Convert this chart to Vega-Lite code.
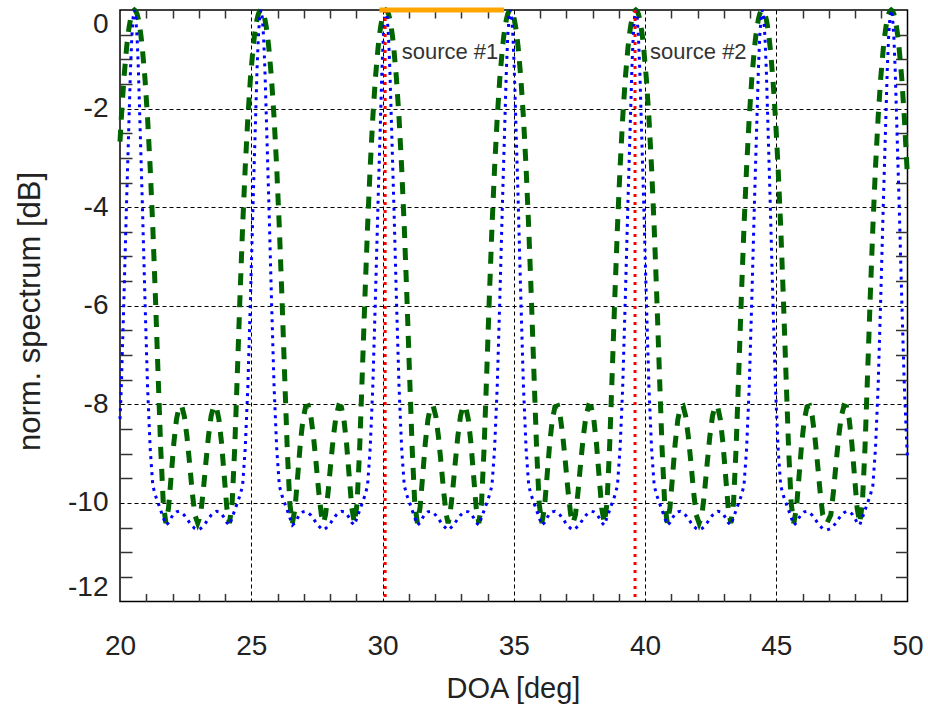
{
"$schema":"https://vega.github.io/schema/vega-lite/v6.json",
"width":787.5,"height":591.5,
"autosize":{"type":"none"},
"padding":{"left":120,"top":10,"right":20,"bottom":105},
"config":{"view":{"stroke":"#000","strokeWidth":1.5},"font":"Liberation Sans","text":{"font":"Liberation Sans"}},
"datasets":{
"spec":[
{"x":20.0,"g":-2.67,"b":-8.3},{"x":20.05,"g":-2.19,"b":-7.65},{"x":20.15,"g":-1.38,"b":-5.85},{"x":20.25,"g":-0.77,"b":-3.9},{"x":20.3,"g":-0.53,"b":-3},{"x":20.35,"g":-0.34,"b":-2.1},{"x":20.4,"g":-0.19,"b":-1.2},{"x":20.45,"g":-0.08,"b":-0.55},{"x":20.5,"g":-0.02,"b":-0.15},
{"x":20.55,"g":0,"b":0},{"x":20.6,"g":-0.02,"b":-0.15},{"x":20.65,"g":-0.08,"b":-0.55},{"x":20.7,"g":-0.19,"b":-1.2},{"x":20.75,"g":-0.34,"b":-2.1},{"x":20.8,"g":-0.53,"b":-3},{"x":20.85,"g":-0.77,"b":-3.9},{"x":20.95,"g":-1.38,"b":-5.85},{"x":21.05,"g":-2.19,"b":-7.65},{"x":21.15,"g":-3.2,"b":-8.9},{"x":21.25,"g":-4.41,"b":-9.65},{"x":21.35,"g":-5.83,"b":-9.85},{"x":21.45,"g":-7.38,"b":-10},{"x":21.55,"g":-8.89,"b":-10.15},{"x":21.65,"g":-10.02,"b":-10.3},{"x":21.75,"g":-10.41,"b":-10.45},{"x":21.85,"g":-10.1,"b":-10.4},{"x":21.95,"g":-9.45,"b":-10.3},{"x":22.05,"g":-8.79,"b":-10.22},{"x":22.15,"g":-8.31,"b":-10.18},{"x":22.25,"g":-8.05,"b":-10.17},{"x":22.35,"g":-8.03,"b":-10.2},{"x":22.45,"g":-8.24,"b":-10.25},{"x":22.55,"g":-8.65,"b":-10.32},{"x":22.65,"g":-9.19,"b":-10.4},{"x":22.75,"g":-9.77,"b":-10.47},{"x":22.85,"g":-10.24,"b":-10.52},
{"x":22.96,"g":-10.41,"b":-10.55},
{"x":23.07,"g":-10.24,"b":-10.52},{"x":23.17,"g":-9.77,"b":-10.47},{"x":23.27,"g":-9.19,"b":-10.4},{"x":23.37,"g":-8.65,"b":-10.32},{"x":23.47,"g":-8.24,"b":-10.25},{"x":23.57,"g":-8.03,"b":-10.2},{"x":23.67,"g":-8.05,"b":-10.17},{"x":23.77,"g":-8.31,"b":-10.18},{"x":23.87,"g":-8.79,"b":-10.22},{"x":23.97,"g":-9.45,"b":-10.3},{"x":24.07,"g":-10.1,"b":-10.4},{"x":24.17,"g":-10.41,"b":-10.45},{"x":24.27,"g":-10.02,"b":-10.3},{"x":24.37,"g":-8.89,"b":-10.15},{"x":24.47,"g":-7.38,"b":-10},{"x":24.57,"g":-5.83,"b":-9.85},{"x":24.67,"g":-4.41,"b":-9.65},{"x":24.77,"g":-3.2,"b":-8.9},{"x":24.87,"g":-2.19,"b":-7.65},{"x":24.97,"g":-1.38,"b":-5.85},{"x":25.07,"g":-0.77,"b":-3.9},{"x":25.12,"g":-0.53,"b":-3},{"x":25.17,"g":-0.34,"b":-2.1},{"x":25.22,"g":-0.19,"b":-1.2},{"x":25.27,"g":-0.08,"b":-0.55},{"x":25.32,"g":-0.02,"b":-0.15},
{"x":25.37,"g":0,"b":0},{"x":25.42,"g":-0.02,"b":-0.15},{"x":25.47,"g":-0.08,"b":-0.55},{"x":25.52,"g":-0.19,"b":-1.2},{"x":25.57,"g":-0.34,"b":-2.1},{"x":25.62,"g":-0.53,"b":-3},{"x":25.67,"g":-0.77,"b":-3.9},{"x":25.77,"g":-1.38,"b":-5.85},{"x":25.87,"g":-2.19,"b":-7.65},{"x":25.97,"g":-3.2,"b":-8.9},{"x":26.07,"g":-4.41,"b":-9.65},{"x":26.17,"g":-5.83,"b":-9.85},{"x":26.27,"g":-7.38,"b":-10},{"x":26.37,"g":-8.89,"b":-10.15},{"x":26.47,"g":-10.02,"b":-10.3},{"x":26.57,"g":-10.41,"b":-10.45},{"x":26.67,"g":-10.1,"b":-10.4},{"x":26.77,"g":-9.45,"b":-10.3},{"x":26.87,"g":-8.79,"b":-10.22},{"x":26.97,"g":-8.31,"b":-10.18},{"x":27.07,"g":-8.05,"b":-10.17},{"x":27.17,"g":-8.03,"b":-10.2},{"x":27.27,"g":-8.24,"b":-10.25},{"x":27.37,"g":-8.65,"b":-10.32},{"x":27.47,"g":-9.19,"b":-10.4},{"x":27.57,"g":-9.77,"b":-10.47},{"x":27.67,"g":-10.24,"b":-10.52},
{"x":27.75,"g":-10.41,"b":-10.55},
{"x":27.83,"g":-10.24,"b":-10.52},{"x":27.93,"g":-9.77,"b":-10.47},{"x":28.03,"g":-9.19,"b":-10.4},{"x":28.13,"g":-8.65,"b":-10.32},{"x":28.23,"g":-8.24,"b":-10.25},{"x":28.33,"g":-8.03,"b":-10.2},{"x":28.43,"g":-8.05,"b":-10.17},{"x":28.53,"g":-8.31,"b":-10.18},{"x":28.63,"g":-8.79,"b":-10.22},{"x":28.73,"g":-9.45,"b":-10.3},{"x":28.83,"g":-10.1,"b":-10.4},{"x":28.93,"g":-10.41,"b":-10.45},{"x":29.03,"g":-10.02,"b":-10.3},{"x":29.13,"g":-8.89,"b":-10.15},{"x":29.23,"g":-7.38,"b":-10},{"x":29.33,"g":-5.83,"b":-9.85},{"x":29.43,"g":-4.41,"b":-9.65},{"x":29.53,"g":-3.2,"b":-8.9},{"x":29.63,"g":-2.19,"b":-7.65},{"x":29.73,"g":-1.38,"b":-5.85},{"x":29.83,"g":-0.77,"b":-3.9},{"x":29.88,"g":-0.53,"b":-3},{"x":29.93,"g":-0.34,"b":-2.1},{"x":29.98,"g":-0.19,"b":-1.2},{"x":30.03,"g":-0.08,"b":-0.55},{"x":30.08,"g":-0.02,"b":-0.15},
{"x":30.13,"g":0,"b":0},{"x":30.18,"g":-0.02,"b":-0.15},{"x":30.23,"g":-0.08,"b":-0.55},{"x":30.28,"g":-0.19,"b":-1.2},{"x":30.33,"g":-0.34,"b":-2.1},{"x":30.38,"g":-0.53,"b":-3},{"x":30.43,"g":-0.77,"b":-3.9},{"x":30.53,"g":-1.38,"b":-5.85},{"x":30.63,"g":-2.19,"b":-7.65},{"x":30.73,"g":-3.2,"b":-8.9},{"x":30.83,"g":-4.41,"b":-9.65},{"x":30.93,"g":-5.83,"b":-9.85},{"x":31.03,"g":-7.38,"b":-10},{"x":31.13,"g":-8.89,"b":-10.15},{"x":31.23,"g":-10.02,"b":-10.3},{"x":31.33,"g":-10.41,"b":-10.45},{"x":31.43,"g":-10.1,"b":-10.4},{"x":31.53,"g":-9.45,"b":-10.3},{"x":31.63,"g":-8.79,"b":-10.22},{"x":31.73,"g":-8.31,"b":-10.18},{"x":31.83,"g":-8.05,"b":-10.17},{"x":31.93,"g":-8.03,"b":-10.2},{"x":32.03,"g":-8.24,"b":-10.25},{"x":32.13,"g":-8.65,"b":-10.32},{"x":32.23,"g":-9.19,"b":-10.4},{"x":32.33,"g":-9.77,"b":-10.47},{"x":32.43,"g":-10.24,"b":-10.52},
{"x":32.5,"g":-10.41,"b":-10.55},
{"x":32.57,"g":-10.24,"b":-10.52},{"x":32.67,"g":-9.77,"b":-10.47},{"x":32.77,"g":-9.19,"b":-10.4},{"x":32.87,"g":-8.65,"b":-10.32},{"x":32.97,"g":-8.24,"b":-10.25},{"x":33.07,"g":-8.03,"b":-10.2},{"x":33.17,"g":-8.05,"b":-10.17},{"x":33.27,"g":-8.31,"b":-10.18},{"x":33.37,"g":-8.79,"b":-10.22},{"x":33.47,"g":-9.45,"b":-10.3},{"x":33.57,"g":-10.1,"b":-10.4},{"x":33.67,"g":-10.41,"b":-10.45},{"x":33.77,"g":-10.02,"b":-10.3},{"x":33.87,"g":-8.89,"b":-10.15},{"x":33.97,"g":-7.38,"b":-10},{"x":34.07,"g":-5.83,"b":-9.85},{"x":34.17,"g":-4.41,"b":-9.65},{"x":34.27,"g":-3.2,"b":-8.9},{"x":34.37,"g":-2.19,"b":-7.65},{"x":34.47,"g":-1.38,"b":-5.85},{"x":34.57,"g":-0.77,"b":-3.9},{"x":34.62,"g":-0.53,"b":-3},{"x":34.67,"g":-0.34,"b":-2.1},{"x":34.72,"g":-0.19,"b":-1.2},{"x":34.77,"g":-0.08,"b":-0.55},{"x":34.82,"g":-0.02,"b":-0.15},
{"x":34.87,"g":0,"b":0},{"x":34.92,"g":-0.02,"b":-0.15},{"x":34.97,"g":-0.08,"b":-0.55},{"x":35.02,"g":-0.19,"b":-1.2},{"x":35.07,"g":-0.34,"b":-2.1},{"x":35.12,"g":-0.53,"b":-3},{"x":35.17,"g":-0.77,"b":-3.9},{"x":35.27,"g":-1.38,"b":-5.85},{"x":35.37,"g":-2.19,"b":-7.65},{"x":35.47,"g":-3.2,"b":-8.9},{"x":35.57,"g":-4.41,"b":-9.65},{"x":35.67,"g":-5.83,"b":-9.85},{"x":35.77,"g":-7.38,"b":-10},{"x":35.87,"g":-8.89,"b":-10.15},{"x":35.97,"g":-10.02,"b":-10.3},{"x":36.07,"g":-10.41,"b":-10.45},{"x":36.17,"g":-10.1,"b":-10.4},{"x":36.27,"g":-9.45,"b":-10.3},{"x":36.37,"g":-8.79,"b":-10.22},{"x":36.47,"g":-8.31,"b":-10.18},{"x":36.57,"g":-8.05,"b":-10.17},{"x":36.67,"g":-8.03,"b":-10.2},{"x":36.77,"g":-8.24,"b":-10.25},{"x":36.87,"g":-8.65,"b":-10.32},{"x":36.97,"g":-9.19,"b":-10.4},{"x":37.07,"g":-9.77,"b":-10.47},{"x":37.17,"g":-10.24,"b":-10.52},
{"x":37.26,"g":-10.41,"b":-10.55},
{"x":37.35,"g":-10.24,"b":-10.52},{"x":37.45,"g":-9.77,"b":-10.47},{"x":37.55,"g":-9.19,"b":-10.4},{"x":37.65,"g":-8.65,"b":-10.32},{"x":37.75,"g":-8.24,"b":-10.25},{"x":37.85,"g":-8.03,"b":-10.2},{"x":37.95,"g":-8.05,"b":-10.17},{"x":38.05,"g":-8.31,"b":-10.18},{"x":38.15,"g":-8.79,"b":-10.22},{"x":38.25,"g":-9.45,"b":-10.3},{"x":38.35,"g":-10.1,"b":-10.4},{"x":38.45,"g":-10.41,"b":-10.45},{"x":38.55,"g":-10.02,"b":-10.3},{"x":38.65,"g":-8.89,"b":-10.15},{"x":38.75,"g":-7.38,"b":-10},{"x":38.85,"g":-5.83,"b":-9.85},{"x":38.95,"g":-4.41,"b":-9.65},{"x":39.05,"g":-3.2,"b":-8.9},{"x":39.15,"g":-2.19,"b":-7.65},{"x":39.25,"g":-1.38,"b":-5.85},{"x":39.35,"g":-0.77,"b":-3.9},{"x":39.4,"g":-0.53,"b":-3},{"x":39.45,"g":-0.34,"b":-2.1},{"x":39.5,"g":-0.19,"b":-1.2},{"x":39.55,"g":-0.08,"b":-0.55},{"x":39.6,"g":-0.02,"b":-0.15},
{"x":39.65,"g":0,"b":0},{"x":39.7,"g":-0.02,"b":-0.15},{"x":39.75,"g":-0.08,"b":-0.55},{"x":39.8,"g":-0.19,"b":-1.2},{"x":39.85,"g":-0.34,"b":-2.1},{"x":39.9,"g":-0.53,"b":-3},{"x":39.95,"g":-0.77,"b":-3.9},{"x":40.05,"g":-1.38,"b":-5.85},{"x":40.15,"g":-2.19,"b":-7.65},{"x":40.25,"g":-3.2,"b":-8.9},{"x":40.35,"g":-4.41,"b":-9.65},{"x":40.45,"g":-5.83,"b":-9.85},{"x":40.55,"g":-7.38,"b":-10},{"x":40.65,"g":-8.89,"b":-10.15},{"x":40.75,"g":-10.02,"b":-10.3},{"x":40.85,"g":-10.41,"b":-10.45},{"x":40.95,"g":-10.1,"b":-10.4},{"x":41.05,"g":-9.45,"b":-10.3},{"x":41.15,"g":-8.79,"b":-10.22},{"x":41.25,"g":-8.31,"b":-10.18},{"x":41.35,"g":-8.05,"b":-10.17},{"x":41.45,"g":-8.03,"b":-10.2},{"x":41.55,"g":-8.24,"b":-10.25},{"x":41.65,"g":-8.65,"b":-10.32},{"x":41.75,"g":-9.19,"b":-10.4},{"x":41.85,"g":-9.77,"b":-10.47},{"x":41.95,"g":-10.24,"b":-10.52},
{"x":42.06,"g":-10.41,"b":-10.55},
{"x":42.17,"g":-10.24,"b":-10.52},{"x":42.27,"g":-9.77,"b":-10.47},{"x":42.37,"g":-9.19,"b":-10.4},{"x":42.47,"g":-8.65,"b":-10.32},{"x":42.57,"g":-8.24,"b":-10.25},{"x":42.67,"g":-8.03,"b":-10.2},{"x":42.77,"g":-8.05,"b":-10.17},{"x":42.87,"g":-8.31,"b":-10.18},{"x":42.97,"g":-8.79,"b":-10.22},{"x":43.07,"g":-9.45,"b":-10.3},{"x":43.17,"g":-10.1,"b":-10.4},{"x":43.27,"g":-10.41,"b":-10.45},{"x":43.37,"g":-10.02,"b":-10.3},{"x":43.47,"g":-8.89,"b":-10.15},{"x":43.57,"g":-7.38,"b":-10},{"x":43.67,"g":-5.83,"b":-9.85},{"x":43.77,"g":-4.41,"b":-9.65},{"x":43.87,"g":-3.2,"b":-8.9},{"x":43.97,"g":-2.19,"b":-7.65},{"x":44.07,"g":-1.38,"b":-5.85},{"x":44.17,"g":-0.77,"b":-3.9},{"x":44.22,"g":-0.53,"b":-3},{"x":44.27,"g":-0.34,"b":-2.1},{"x":44.32,"g":-0.19,"b":-1.2},{"x":44.37,"g":-0.08,"b":-0.55},{"x":44.42,"g":-0.02,"b":-0.15},
{"x":44.47,"g":0,"b":0},{"x":44.52,"g":-0.02,"b":-0.15},{"x":44.57,"g":-0.08,"b":-0.55},{"x":44.62,"g":-0.19,"b":-1.2},{"x":44.67,"g":-0.34,"b":-2.1},{"x":44.72,"g":-0.53,"b":-3},{"x":44.77,"g":-0.77,"b":-3.9},{"x":44.87,"g":-1.38,"b":-5.85},{"x":44.97,"g":-2.19,"b":-7.65},{"x":45.07,"g":-3.2,"b":-8.9},{"x":45.17,"g":-4.41,"b":-9.65},{"x":45.27,"g":-5.83,"b":-9.85},{"x":45.37,"g":-7.38,"b":-10},{"x":45.47,"g":-8.89,"b":-10.15},{"x":45.57,"g":-10.02,"b":-10.3},{"x":45.67,"g":-10.41,"b":-10.45},{"x":45.77,"g":-10.1,"b":-10.4},{"x":45.87,"g":-9.45,"b":-10.3},{"x":45.97,"g":-8.79,"b":-10.22},{"x":46.07,"g":-8.31,"b":-10.18},{"x":46.17,"g":-8.05,"b":-10.17},{"x":46.27,"g":-8.03,"b":-10.2},{"x":46.37,"g":-8.24,"b":-10.25},{"x":46.47,"g":-8.65,"b":-10.32},{"x":46.57,"g":-9.19,"b":-10.4},{"x":46.67,"g":-9.77,"b":-10.47},{"x":46.77,"g":-10.24,"b":-10.52},
{"x":46.93,"g":-10.41,"b":-10.55},
{"x":47.08,"g":-10.24,"b":-10.52},{"x":47.18,"g":-9.77,"b":-10.47},{"x":47.28,"g":-9.19,"b":-10.4},{"x":47.38,"g":-8.65,"b":-10.32},{"x":47.48,"g":-8.24,"b":-10.25},{"x":47.58,"g":-8.03,"b":-10.2},{"x":47.68,"g":-8.05,"b":-10.17},{"x":47.78,"g":-8.31,"b":-10.18},{"x":47.88,"g":-8.79,"b":-10.22},{"x":47.98,"g":-9.45,"b":-10.3},{"x":48.08,"g":-10.1,"b":-10.4},{"x":48.18,"g":-10.41,"b":-10.45},{"x":48.28,"g":-10.02,"b":-10.3},{"x":48.38,"g":-8.89,"b":-10.15},{"x":48.48,"g":-7.38,"b":-10},{"x":48.58,"g":-5.83,"b":-9.85},{"x":48.68,"g":-4.41,"b":-9.65},{"x":48.78,"g":-3.2,"b":-8.9},{"x":48.88,"g":-2.19,"b":-7.65},{"x":48.98,"g":-1.38,"b":-5.85},{"x":49.08,"g":-0.77,"b":-3.9},{"x":49.13,"g":-0.53,"b":-3},{"x":49.18,"g":-0.34,"b":-2.1},{"x":49.23,"g":-0.19,"b":-1.2},{"x":49.28,"g":-0.08,"b":-0.55},{"x":49.33,"g":-0.02,"b":-0.15},
{"x":49.38,"g":0,"b":0},{"x":49.43,"g":-0.02,"b":-0.15},{"x":49.48,"g":-0.08,"b":-0.55},{"x":49.53,"g":-0.19,"b":-1.2},{"x":49.58,"g":-0.34,"b":-2.1},{"x":49.63,"g":-0.53,"b":-3},{"x":49.68,"g":-0.77,"b":-3.9},{"x":49.78,"g":-1.38,"b":-5.85},{"x":49.88,"g":-2.19,"b":-7.65},{"x":49.98,"g":-3.2,"b":-8.9},{"x":50.0,"g":-3.4,"b":-9.05}
],
"src":[{"x":30.1},{"x":39.62}],
"bar":[{"x":29.88,"x2":34.63,"y":0}],
"lab":[{"x":30.73,"y":-1.0,"t":"source #1"},{"x":40.19,"y":-1.0,"t":"source #2"}]
},
"layer":[
{"data":{"name":"spec"},
 "mark":{"type":"line","color":"#006400","strokeWidth":5,"strokeDash":[12,10]},
 "encoding":{
  "x":{"field":"x","type":"quantitative","scale":{"domain":[20,50],"nice":false,"zero":false},
   "axis":{"orient":"bottom","values":[20,21,22,23,24,25,26,27,28,29,30,31,32,33,34,35,36,37,38,39,40,41,42,43,44,45,46,47,48,49,50],
    "domain":false,"tickSize":-8,"tickColor":"#333","tickWidth":1.5,
    "tickOpacity":{"condition":{"test":"datum.value % 5 === 0","value":0},"value":1},
    "grid":true,"gridColor":"#000","gridDash":[4,3],"gridWidth":1,
    "gridOpacity":{"condition":{"test":"datum.value % 5 === 0 && datum.value > 20 && datum.value < 50","value":1},"value":0},
    "labelExpr":"datum.value % 5 === 0 ? '' + datum.value : ''","labelOverlap":false,"labelBound":false,"labelFlush":false,
    "labelFontSize":28,"labelColor":"#222","labelBaseline":"middle","labelPadding":53,
    "title":"DOA [deg]","titleFontSize":29,"titleFontWeight":"normal","titleColor":"#222",
    "titleX":393,"titleY":87,"titleAlign":"center","titleBaseline":"middle"}},
  "y":{"field":"g","type":"quantitative","scale":{"domain":[-12,0],"nice":false,"zero":false},
   "axis":{"orient":"left","values":[-12,-11.5,-11,-10.5,-10,-9.5,-9,-8.5,-8,-7.5,-7,-6.5,-6,-5.5,-5,-4.5,-4,-3.5,-3,-2.5,-2,-1.5,-1,-0.5,0],
    "domain":false,"tickSize":-12,"tickColor":"#333","tickWidth":1.5,
    "tickOpacity":{"condition":{"test":"datum.value % 2 === 0","value":0},"value":1},
    "grid":true,"gridColor":"#000","gridDash":[4,3],"gridWidth":1,
    "gridOpacity":{"condition":{"test":"datum.value % 2 === 0 && datum.value > -12 && datum.value < 0","value":1},"value":0},
    "labelExpr":"datum.value % 2 === 0 ? '' + datum.value : ''","labelOverlap":false,"labelBound":false,"labelFlush":true,
    "labelFontSize":28,"labelColor":"#222","labelPadding":24,
    "title":"norm. spectrum [dB]","titleFontSize":31,"titleFontWeight":"normal","titleColor":"#222",
    "titleX":-90,"titleY":301,"titleAngle":-90,"titleAlign":"center","titleBaseline":"middle"}}
 }},
{"data":{"name":"spec"},
 "mark":{"type":"line","color":"#0000ff","strokeWidth":3,"strokeDash":[3,5]},
 "encoding":{
  "x":{"field":"x","type":"quantitative",
   "axis":{"orient":"top","values":[20,21,22,23,24,25,26,27,28,29,30,31,32,33,34,35,36,37,38,39,40,41,42,43,44,45,46,47,48,49,50],
    "domain":false,"labels":false,"grid":false,"title":null,"tickSize":-8,"tickColor":"#333","tickWidth":1.5,
    "tickOpacity":{"condition":{"test":"datum.value % 5 === 0","value":0},"value":1}}},
  "y":{"field":"b","type":"quantitative",
   "axis":{"orient":"right","values":[-12,-11.5,-11,-10.5,-10,-9.5,-9,-8.5,-8,-7.5,-7,-6.5,-6,-5.5,-5,-4.5,-4,-3.5,-3,-2.5,-2,-1.5,-1,-0.5,0],
    "domain":false,"labels":false,"grid":false,"title":null,"tickSize":-12,"tickColor":"#333","tickWidth":1.5,
    "tickOpacity":{"condition":{"test":"datum.value % 2 === 0","value":0},"value":1}}}
 }},
{"data":{"name":"src"},
 "mark":{"type":"rule","color":"#ff0000","strokeWidth":3,"strokeDash":[3,5]},
 "encoding":{"x":{"field":"x","type":"quantitative","axis":null}}},
{"data":{"name":"bar"},
 "mark":{"type":"rule","color":"#ffa500","strokeWidth":5},
 "encoding":{"x":{"field":"x","type":"quantitative","axis":null},"x2":{"field":"x2"},"y":{"field":"y","type":"quantitative","axis":null}}},
{"data":{"name":"lab"},
 "mark":{"type":"text","align":"left","baseline":"alphabetic","fontSize":22,"color":"#333","font":"Liberation Sans"},
 "encoding":{"x":{"field":"x","type":"quantitative","axis":null},"y":{"field":"y","type":"quantitative","axis":null},"text":{"field":"t"}}}
],
"resolve":{"axis":{"x":"independent","y":"independent"}}
}
